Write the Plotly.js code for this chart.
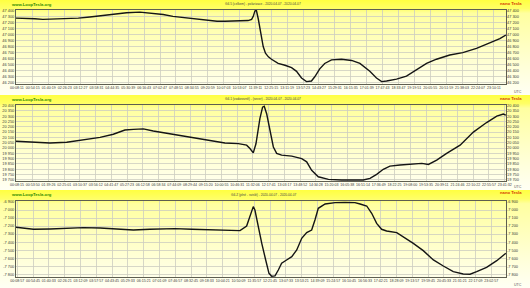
<!DOCTYPE html>
<html>
<head>
<meta charset="utf-8">
<script src="https://cdn.plot.ly/plotly-3.0.1.min.js"></script>
<style>
  html, body { margin: 0; padding: 0; background: #ffffff; }
  .panel { width: 530px; position: relative;
    background: linear-gradient(to bottom, #ffff40 0%, #ffff66 9%, #ffffa0 14%, #ffffd8 70%, #fffff4 100%); }
</style>
</head>
<body>
<div id="p1" class="panel" style="height:95px"></div>
<div id="p2" class="panel" style="height:95px"></div>
<div id="p3" class="panel" style="height:98px"></div>
<script>
// ---------- DATA ----------
const SITE = 'www.LoopTesla.org';
const UNIT = 'nano Tesla';
const TZ = 'UTC';

const P1_TITLE = 'G4.5 (celkem) - polarizace - 2020-04-07 - 2020-04-07';
const P1_H = [0.09,0.5,1.0,1.39,2.0,2.54,3.1,3.66,4.15,4.63,5.0,5.43,6.07,6.70,7.2,7.67,8.2,8.73,9.36,9.8,10.18,10.6,10.99,11.3,11.47,11.55,11.63,11.70,11.79,11.92,12.03,12.14,12.28,12.43,12.75,13.08,13.40,13.64,13.88,14.12,14.36,14.52,14.76,15.0,15.33,15.81,16.30,16.70,17.18,17.50,17.75,17.99,18.47,18.95,19.43,19.92,20.40,21.04,21.67,22.33,22.97,23.46,23.75];
const P1_V = [47270,47270,47260,47250,47255,47260,47270,47290,47310,47330,47345,47360,47370,47350,47330,47300,47280,47260,47230,47220,47220,47220,47220,47230,47250,47300,47390,47400,47260,47020,46800,46690,46630,46590,46520,46490,46450,46390,46280,46220,46230,46300,46430,46520,46580,46590,46570,46520,46390,46280,46220,46230,46260,46310,46420,46520,46590,46660,46700,46770,46860,46930,46990];
const P1_YTICKS = [46200,46300,46400,46500,46600,46700,46800,46900,47000,47100,47200,47300,47400];
const P1_YLABELS = ['46 200','46 300','46 400','46 500','46 600','46 700','46 800','46 900','47 000','47 100','47 200','47 300','47 400'];
const P1_XLABELS = ['00:08:11','00:54:15','01:40:19','02:26:23','03:12:27','03:58:31','04:44:35','05:30:39','06:16:43','07:02:47','07:48:51','08:34:55','09:20:59','10:07:03','10:53:07','11:39:11','12:25:15','13:11:19','13:57:23','14:43:27','15:29:31','16:15:35','17:01:39','17:47:43','18:33:47','19:19:51','20:05:55','20:51:59','21:38:03','22:24:07','23:10:11'];

const P2_TITLE = 'G4.1 (vodorovně) - (sever) - 2020-04-07 - 2020-04-07';
const P2_H = [0.09,0.93,1.73,2.54,3.34,4.15,4.79,5.35,5.76,6.24,6.72,7.37,7.77,8.58,9.38,10.18,10.83,11.23,11.39,11.55,11.68,11.87,12.00,12.08,12.20,12.36,12.52,12.68,12.92,13.41,13.89,14.13,14.37,14.69,15.18,15.82,16.46,16.86,17.19,17.51,17.83,18.15,18.64,19.12,19.69,20.01,20.41,20.89,21.54,22.18,22.82,23.31,23.63,23.75];
const P2_V = [20064,20055,20048,20055,20080,20100,20130,20170,20176,20180,20160,20140,20126,20104,20073,20048,20042,20027,19995,19955,20040,20276,20385,20394,20320,20150,20010,19950,19933,19924,19900,19870,19790,19730,19705,19700,19700,19700,19715,19753,19800,19830,19840,19850,19856,19846,19886,19950,20027,20150,20240,20300,20320,20310];
const P2_YTICKS = [19700,19750,19800,19850,19900,19950,20000,20050,20100,20150,20200,20250,20300,20350,20400];
const P2_YLABELS = ['19 700','19 750','19 800','19 850','19 900','19 950','20 000','20 050','20 100','20 150','20 200','20 250','20 300','20 350','20 400'];
const P2_XLABELS = ['00:08:15','00:53:50','01:39:26','02:25:01','03:10:37','03:56:12','04:41:47','05:27:23','06:12:58','06:58:34','07:44:09','08:29:44','09:15:20','10:00:55','10:46:31','11:32:06','12:17:41','13:03:17','13:48:52','14:34:28','15:20:03','16:05:38','16:51:14','17:36:49','18:22:25','19:08:00','19:53:35','20:39:11','21:24:46','22:10:22','22:55:57','23:41:32'];

const P3_TITLE = 'G4.Z (plné - svislé) - 2020-04-07 - 2020-04-07';
const P3_H = [0.09,0.93,1.73,2.54,3.34,4.15,4.95,5.76,6.56,7.37,7.77,8.58,9.38,10.18,10.91,11.23,11.39,11.55,11.63,11.79,11.96,12.15,12.31,12.44,12.60,12.76,12.92,13.16,13.41,13.65,13.89,14.13,14.37,14.53,14.69,15.02,15.50,15.98,16.46,16.71,17.03,17.27,17.51,17.75,17.99,18.48,18.80,19.28,19.76,20.25,20.73,21.21,21.69,22.02,22.34,22.82,23.31,23.75];
const P3_V = [-7215,-7240,-7236,-7224,-7220,-7224,-7236,-7249,-7240,-7232,-7232,-7240,-7249,-7257,-7257,-7199,-7083,-6958,-7000,-7207,-7415,-7622,-7788,-7825,-7821,-7747,-7663,-7622,-7581,-7498,-7352,-7282,-7249,-7124,-6979,-6925,-6908,-6905,-6908,-6925,-6950,-7041,-7166,-7240,-7261,-7282,-7332,-7415,-7506,-7622,-7697,-7768,-7797,-7800,-7768,-7713,-7631,-7539];
const P3_YTICKS = [-7800,-7700,-7600,-7500,-7400,-7300,-7200,-7100,-7000,-6900];
const P3_YLABELS = ['-7 800','-7 700','-7 600','-7 500','-7 400','-7 300','-7 200','-7 100','-7 000','-6 900'];
const P3_XLABELS = ['00:08:57','00:54:45','01:40:33','02:26:21','03:12:09','03:57:57','04:43:45','05:29:33','06:15:21','07:01:09','07:46:57','08:32:45','09:18:33','10:04:21','10:50:09','11:35:57','12:21:45','13:07:33','13:53:21','14:39:09','15:24:57','16:10:45','16:56:33','17:42:21','18:28:09','19:13:57','19:59:45','20:45:33','21:31:21','22:17:09','23:02:57'];

// ---------- DRAW ----------
function hms(s) { const p = s.split(':').map(Number); return p[0] + p[1] / 60 + p[2] / 3600; }

const FONT = 'Liberation Sans, Arial, sans-serif';
const L = 16, R = 24, W = 530;
const XRANGE = [0.09, 23.757];

function panel(id, H, T, B, hours, vals, yticks, ylabels, xlabels, yrange, title) {
  const plotH = H - T - B, plotW = W - L - R;
  const px = x => (x - L) / plotW;
  const py = y => (H - B - y) / plotH;
  const tf = { family: FONT, size: 3.9, color: '#3a3a3a' };
  const ann = (x, y, text, xa, font) => ({ xref: 'paper', yref: 'paper', x: px(x), y: py(y),
    text: text, showarrow: false, xanchor: xa, yanchor: 'middle', font: font, borderpad: 0 });
  const line = { x: hours, y: vals, type: 'scatter', mode: 'lines',
    line: { color: '#151515', width: 1.4 }, hoverinfo: 'skip' };
  const ghost = { x: hours, y: vals, type: 'scatter', mode: 'lines', yaxis: 'y2',
    line: { color: 'rgba(0,0,0,0)', width: 0 }, hoverinfo: 'skip' };
  const layout = {
    width: W, height: H,
    margin: { l: L, r: R, t: T, b: B, pad: 0 },
    paper_bgcolor: 'rgba(0,0,0,0)', plot_bgcolor: 'rgba(0,0,0,0)',
    showlegend: false,
    font: { family: FONT },
    xaxis: { range: XRANGE, tickmode: 'array', tickvals: xlabels.map(hms), ticktext: xlabels,
      tickangle: 0, tickfont: { family: FONT, size: 3.6, color: '#3a3a3a' }, ticks: '', ticklen: 0,
      showgrid: true, gridcolor: '#cdcdc0', gridwidth: 0.8, zeroline: false,
      showline: true, linecolor: '#5e5e50', linewidth: 1, mirror: true, fixedrange: true },
    yaxis: { range: yrange, tickmode: 'array', tickvals: yticks, ticktext: ylabels, tickfont: tf,
      ticks: '', showgrid: true, gridcolor: '#cdcdc0', gridwidth: 0.8, zeroline: false,
      showline: true, linecolor: '#5e5e50', linewidth: 1, mirror: true, fixedrange: true },
    yaxis2: { overlaying: 'y', side: 'right', range: yrange, tickmode: 'array', tickvals: yticks,
      ticktext: ylabels, tickfont: tf, ticks: '', showgrid: false, zeroline: false, showline: false, fixedrange: true },
    annotations: [
      ann(10, T / 2 - 0.5, SITE, 'left', { family: FONT, size: 4.2, color: '#2f8a00', weight: 'bold' }),
      ann(263, T / 2 - 0.5, title, 'center', { family: FONT, size: 3.2, color: '#444' }),
      ann(523, 3, UNIT, 'right', { family: FONT, size: 4.2, color: '#d23a00', weight: 'bold' }),
      ann(523, H - 3, TZ, 'right', { family: FONT, size: 3.6, color: '#555' })
    ]
  };
  Plotly.newPlot(id, [line, ghost], layout, { staticPlot: true, displayModeBar: false });
}

panel('p1', 95, 10, 11, P1_H, P1_V, P1_YTICKS, P1_YLABELS, P1_XLABELS, [46180, 47405], P1_TITLE);
panel('p2', 95, 10, 9, P2_H, P2_V, P2_YTICKS, P2_YLABELS, P2_XLABELS, [19690, 20405], P2_TITLE);
panel('p3', 98, 11, 11, P3_H, P3_V, P3_YTICKS, P3_YLABELS, P3_XLABELS, [-7834, -6888], P3_TITLE);
</script>
</body>
</html>
